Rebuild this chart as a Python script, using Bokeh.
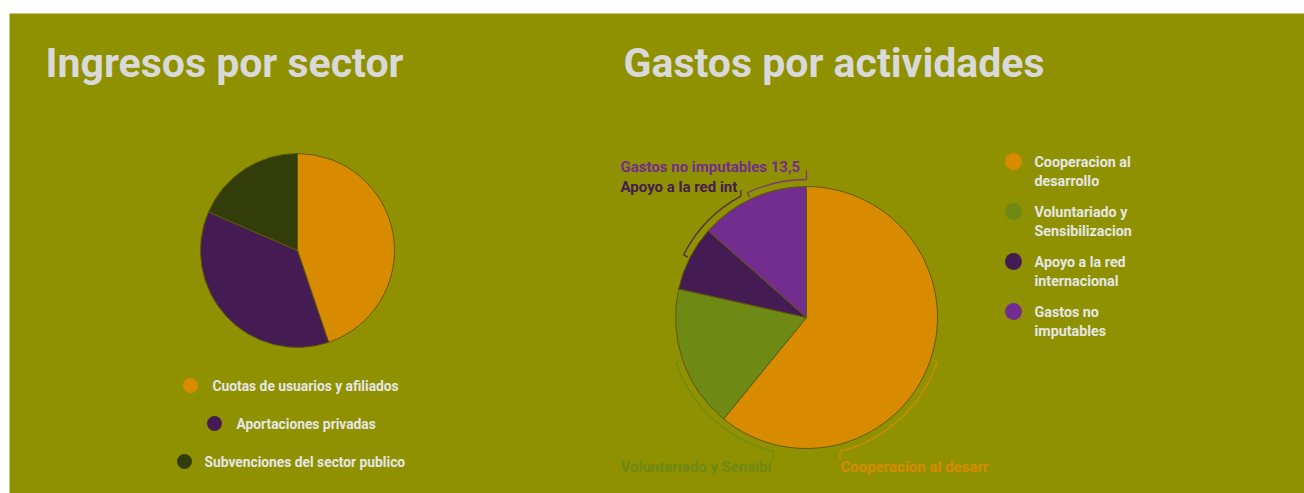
import math
from bokeh.plotting import figure
from bokeh.models import Range1d, ColumnDataSource
from bokeh.core.properties import value
from bokeh.embed import file_html
from bokeh.resources import INLINE

# ---------------- data ----------------
ingresos_labels = ["Cuotas de usuarios y afiliados", "Aportaciones privadas",
                   "Subvenciones del sector publico"]
ingresos_values = [44.8, 36.7, 18.5]
ingresos_colors = ["#d98b00", "#451b54", "#323d0a"]

gastos_labels = ["Cooperacion al desarrollo", "Voluntariado y Sensibilizacion",
                 "Apoyo a la red internacional", "Gastos no imputables"]
gastos_values = [60.9, 17.6, 8.0, 13.5]
gastos_colors = ["#d98b00", "#6e8914", "#451b54", "#722d8f"]
gastos_legend_lines = [["Cooperacion al", "desarrollo"],
                       ["Voluntariado y", "Sensibilizacion"],
                       ["Apoyo a la red", "internacional"],
                       ["Gastos no", "imputables"]]
# visible (clipped) slice labels
gastos_slice_labels = ["Cooperacion al desarr", "Voluntariado y Sensibi",
                       "Apoyo a la red int", "Gastos no imputables 13,5"]

BG = "#8f9100"
TITLE_C = "#d9d9d9"
LEG_C = "#e6e6e6"

X0, Y0 = 9, 13            # page position of the frame
W, H = 1304 - X0, 493 - Y0


def ry(page_y):
    return (Y0 + H) - page_y + Y0


p = figure(width=W, height=H, x_range=Range1d(X0, X0 + W), y_range=Range1d(Y0, Y0 + H),
           output_backend="svg", toolbar_location=None, min_border=0,
           background_fill_color=BG, border_fill_color=BG, outline_line_color=None)
p.margin = (Y0, 0, 0, X0)
p.axis.visible = False
p.grid.visible = False

TFONT = value("Roboto")

# titles
p.text(x=[45, 623], y=[ry(62), ry(62)], text=["Ingresos por sector", "Gastos por actividades"],
       text_font=TFONT, text_font_style="bold", text_font_size="41px",
       text_color=TITLE_C, text_baseline="middle")


def pie(cx, cy, r, vals, colors):
    tot = sum(vals)
    starts, ends = [], []
    c = 0.0
    for v in vals:
        starts.append(math.pi / 2 - 2 * math.pi * c / tot)
        c += v
        ends.append(math.pi / 2 - 2 * math.pi * c / tot)
    src = ColumnDataSource(dict(x=[cx] * len(vals), y=[cy] * len(vals),
                                s=starts, e=ends, c=colors))
    p.wedge(x="x", y="y", radius=r, start_angle="s", end_angle="e", direction="clock",
            fill_color="c", line_color="#5e5a08", line_width=1, source=src)


# pie 1
pie(297, ry(250), 97, ingresos_values, ingresos_colors)
# pie 2
PCX, PCY, PR = 806, ry(317), 131
pie(PCX, PCY, PR, gastos_values, gastos_colors)

# legend 1
leg1_cx = [190, 214, 184]
leg1_tx = [212, 236, 204]
leg1_y = [ry(385), ry(423), ry(461)]
p.scatter(x=leg1_cx, y=leg1_y, size=15, marker="circle", fill_color=ingresos_colors,
          line_color=None)
p.text(x=leg1_tx, y=leg1_y, text=ingresos_labels, text_font=value("Roboto"),
       text_font_style="bold", text_font_size="13.8px", text_color=LEG_C,
       text_baseline="middle")

# legend 2
leg2_y = [161, 211, 261, 311]
p.scatter(x=[1013] * 4, y=[ry(v) for v in leg2_y], size=17, marker="circle",
          fill_color=gastos_colors, line_color=None)
lx, ly, lt = [], [], []
for yy, lines in zip(leg2_y, gastos_legend_lines):
    for k, t in enumerate(lines):
        lx.append(1034)
        ly.append(ry(yy + 19.5 * k))
        lt.append(t)
p.text(x=lx, y=ly, text=lt, text_font=value("Roboto"), text_font_style="bold",
       text_font_size="14.3px", text_color=LEG_C, text_baseline="middle")

# slice label brackets (angles clockwise from top, degrees) and leads
bracket_spans = [(108.7, 166.0), (251.0, 194.0), (297.0, 331.6), (334.7, 360.0)]
bracket_lead = [-9, -9, 6, 9]   # vertical lead toward label (data units, + up)
label_pos = [(840, ry(466)), (620, ry(466)), (620, ry(186)), (620, ry(166))]
BR = PR + 7


def cpt(deg, rr):
    a = math.radians(deg)
    return PCX + rr * math.sin(a), PCY + rr * math.cos(a)


for (a1, a2), lead, col in zip(bracket_spans, bracket_lead, gastos_colors):
    lo, hi = min(a1, a2), max(a1, a2)
    p.arc(x=[PCX], y=[PCY], radius=BR, start_angle=math.pi / 2 - math.radians(lo),
          end_angle=math.pi / 2 - math.radians(hi), direction="clock",
          line_color=col, line_width=1.3, line_alpha=0.85)
    # tick at the free end
    xa, ya = cpt(a1, BR)
    xb, yb = cpt(a1, BR - 5)
    p.line(x=[xa, xb], y=[ya, yb], line_color=col, line_width=1.3, line_alpha=0.85)
    # lead to the label
    xe, ye = cpt(a2, BR)
    p.line(x=[xe, xe], y=[ye, ye + lead], line_color=col, line_width=1.3, line_alpha=0.85)

p.text(x=[q[0] for q in label_pos], y=[q[1] for q in label_pos], text=gastos_slice_labels,
       text_font=value("Roboto"), text_font_style="bold", text_font_size="15px",
       text_color=gastos_colors, text_baseline="middle")

open("out.html", "w").write(file_html(p, INLINE))
